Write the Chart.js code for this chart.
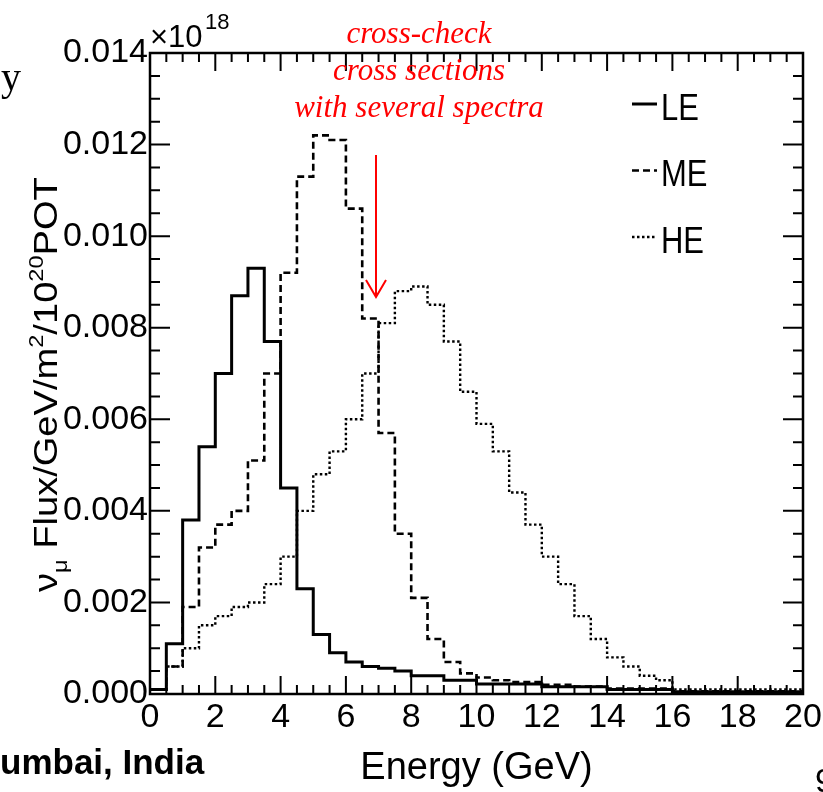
<!DOCTYPE html>
<html>
<head>
<meta charset="utf-8">
<script src="https://cdn.jsdelivr.net/npm/chart.js@4.4.0/dist/chart.umd.min.js"></script>
<style>
  html, body { margin: 0; padding: 0; background: #fff; }
  canvas { display: block; }
</style>
</head>
<body>
<canvas id="fluxChart" width="823" height="792"></canvas>
<script>
// energy bin edges (GeV), 0.5 GeV wide bins
var binEdges = [0, 0.5, 1, 1.5, 2, 2.5, 3, 3.5, 4, 4.5, 5, 5.5, 6, 6.5, 7, 7.5, 8, 8.5, 9, 9.5,
                10, 10.5, 11, 11.5, 12, 12.5, 13, 13.5, 14, 14.5, 15, 15.5, 16, 16.5, 17, 17.5, 18, 18.5, 19, 19.5, 20];

// numu flux per bin, x10^18 /GeV/m2/1e20 POT
var leFlux = [0.0001, 0.0011, 0.0038, 0.0054, 0.0070, 0.0087, 0.0093, 0.0077, 0.0045, 0.0023,
              0.0013, 0.0009, 0.0007, 0.0006, 0.00056, 0.0005, 0.0004, 0.0004, 0.0003, 0.0003,
              0.00022, 0.00022, 0.00022, 0.00022, 0.00016, 0.00016, 0.00016, 0.00016, 0.0001, 0.0001,
              0.0001, 0.0001, 0.00005, 0.00005, 0.00005, 0.00005, 0.00005, 0.00005, 0.00005, 0.00005];
var meFlux = [0.0001, 0.0006, 0.0019, 0.0032, 0.0037, 0.0040, 0.0051, 0.0070, 0.0092, 0.0113,
              0.0122, 0.0121, 0.0106, 0.0082, 0.0057, 0.0035, 0.0021, 0.0012, 0.0007, 0.00045,
              0.00036, 0.0003, 0.00026, 0.00026, 0.0002, 0.0002, 0.00016, 0.00016, 0.00012, 0.00012,
              0.00012, 0.00012, 0.00006, 0.00006, 0.00006, 0.00006, 0.00006, 0.00006, 0.00006, 0.00006];
var heFlux = [0.0001, 0.0006, 0.0010, 0.0015, 0.0017, 0.0019, 0.0020, 0.0024, 0.0030, 0.0040,
              0.0048, 0.0053, 0.0060, 0.0070, 0.0081, 0.0088, 0.0089, 0.0085, 0.0077, 0.0066,
              0.0059, 0.0053, 0.0044, 0.0037, 0.0030, 0.0024, 0.0017, 0.0012, 0.0008, 0.0006,
              0.0004, 0.0003, 0.0001, 0.0001, 0.0001, 0.0001, 0.0001, 0.0001, 0.0001, 0.0001];

var xTicks = [0, 2, 4, 6, 8, 10, 12, 14, 16, 18, 20];
var yTicks = [0, 0.002, 0.004, 0.006, 0.008, 0.010, 0.012, 0.014];
var noteLines = ['cross-check', 'cross sections', 'with several spectra'];

var SANS = '"Liberation Sans", Arial, sans-serif';
var SERIF = '"Liberation Serif", "Times New Roman", serif';

// histogram outline: one point per low edge, plus the last high edge
function histPoints(vals) {
    var pts = vals.map(function (v, i) { return { x: binEdges[i], y: v }; });
    pts.push({ x: binEdges[vals.length], y: vals[vals.length - 1] });
    return pts;
}

// text with sub/superscripts drawn left to right from the current origin
function drawRich(ctx, parts, size) {
    var x = 0;
    parts.forEach(function (p) {
        var fs = p.s ? size * 0.62 : size;
        ctx.font = fs + 'px ' + SANS;
        var dy = p.s === 'sub' ? size * 0.3 : (p.s === 'sup' ? -size * 0.42 : 0);
        ctx.fillText(p.t, x, dy);
        x += ctx.measureText(p.t).width;
    });
}

// ROOT-like frame: inner ticks on all four sides, legend and annotations
var rootFrame = {
    id: 'rootFrame',
    afterDatasetsDraw: function (chart) {
        var ctx = chart.ctx, a = chart.chartArea;
        var xs = chart.scales.x, ys = chart.scales.y;
        ctx.save();
        ctx.strokeStyle = '#000';
        ctx.lineWidth = 2;
        ctx.beginPath();
        for (var k = 0; k <= 40; k++) {
            var px = xs.getPixelForValue(k * 0.5);
            var len = (k % 4 === 0) ? 18 : 9;
            ctx.moveTo(px, a.bottom); ctx.lineTo(px, a.bottom - len);
            ctx.moveTo(px, a.top); ctx.lineTo(px, a.top + len);
        }
        for (var j = 0; j <= 28; j++) {
            var py = ys.getPixelForValue(j * 0.0005);
            var l2 = (j % 4 === 0) ? 20 : 10;
            ctx.moveTo(a.left, py); ctx.lineTo(a.left + l2, py);
            ctx.moveTo(a.right, py); ctx.lineTo(a.right - l2, py);
        }
        ctx.stroke();
        ctx.lineWidth = 2.5;
        ctx.strokeRect(a.left, a.top, a.right - a.left, a.bottom - a.top);

        // legend
        ctx.fillStyle = '#000';
        chart.data.datasets.forEach(function (ds, i) {
            var yy = 104 + i * 66.5;
            ctx.save();
            ctx.lineWidth = ds.borderWidth;
            ctx.setLineDash(ds.borderDash || []);
            ctx.beginPath();
            ctx.moveTo(632, yy); ctx.lineTo(657, yy);
            ctx.stroke();
            ctx.restore();
            ctx.save();
            ctx.translate(661, yy + 15.5);
            ctx.scale(0.86, 1);
            ctx.font = '36px ' + SANS;
            ctx.textAlign = 'left';
            ctx.textBaseline = 'alphabetic';
            ctx.fillText(ds.label, 0, 0);
            ctx.restore();
        });

        // exponent of the y axis
        ctx.textAlign = 'left';
        ctx.textBaseline = 'alphabetic';
        ctx.font = '31px ' + SANS;
        ctx.fillText('\u00d710', 150, 47);
        ctx.font = '22px ' + SANS;
        ctx.fillText('18', 205, 29);

        // y axis title
        ctx.save();
        ctx.translate(57, 592);
        ctx.rotate(-Math.PI / 2);
        ctx.scale(1.12, 1);
        drawRich(ctx, [
            { t: '\u03bd' }, { t: '\u03bc', s: 'sub' }, { t: ' Flux/GeV/m' }, { t: '2', s: 'sup' },
            { t: '/10' }, { t: '20', s: 'sup' }, { t: 'POT' }
        ], 34);
        ctx.restore();

        // red note and arrow
        ctx.fillStyle = '#ff0000';
        ctx.strokeStyle = '#ff0000';
        ctx.font = 'italic 31px ' + SERIF;
        ctx.textAlign = 'center';
        noteLines.forEach(function (t, i) {
            ctx.fillText(t, 419, 43 + i * 37);
        });
        ctx.lineWidth = 2;
        ctx.beginPath();
        ctx.moveTo(376, 155); ctx.lineTo(376, 297);
        ctx.moveTo(366, 280); ctx.lineTo(376, 297); ctx.lineTo(386, 280);
        ctx.stroke();

        // surrounding slide text
        ctx.fillStyle = '#000';
        ctx.textAlign = 'left';
        ctx.font = '40px ' + SERIF;
        ctx.fillText('y', 1, 90);
        ctx.font = 'bold 35px ' + SANS;
        ctx.fillText('umbai, India', 0, 774);
        ctx.font = '34px ' + SANS;
        ctx.fillText('9', 815, 792);
        ctx.restore();
    }
};

var ctx = document.getElementById('fluxChart').getContext('2d');
var fluxChart = new Chart(ctx, {
    type: 'line',
    data: {
        datasets: [{
            label: 'LE',
            data: histPoints(leFlux),
            borderColor: '#000',
            borderWidth: 3,
            stepped: 'before',
            pointRadius: 0,
            fill: false
        }, {
            label: 'ME',
            data: histPoints(meFlux),
            borderColor: '#000',
            borderWidth: 2.6,
            borderDash: [7, 4],
            stepped: 'before',
            pointRadius: 0,
            fill: false
        }, {
            label: 'HE',
            data: histPoints(heFlux),
            borderColor: '#000',
            borderWidth: 2.4,
            borderDash: [2.5, 2.5],
            stepped: 'before',
            pointRadius: 0,
            fill: false
        }]
    },
    options: {
        responsive: false,
        animation: false,
        layout: { padding: { top: 53, right: 20, left: 0, bottom: 0 } },
        plugins: { legend: { display: false }, tooltip: { enabled: false } },
        scales: {
            x: {
                type: 'linear',
                min: 0,
                max: 20,
                afterBuildTicks: function (scale) {
                    scale.ticks = xTicks.map(function (v) { return { value: v }; });
                },
                afterFit: function (scale) {
                    scale.height = 98;
                    scale.paddingLeft = 0;
                    scale.paddingRight = 0;
                },
                grid: { display: false, drawTicks: false },
                border: { display: false },
                ticks: {
                    color: '#000',
                    padding: 3,
                    maxRotation: 0,
                    autoSkip: false,
                    font: { family: SANS, size: 34 }
                },
                title: {
                    display: true,
                    text: 'Energy (GeV)',
                    color: '#000',
                    padding: { top: 0, bottom: 1 },
                    font: { family: SANS, size: 38 }
                }
            },
            y: {
                min: 0,
                max: 0.014,
                afterBuildTicks: function (scale) {
                    scale.ticks = yTicks.map(function (v) { return { value: v }; });
                },
                afterFit: function (scale) {
                    scale.width = 150;
                    scale.paddingTop = 0;
                    scale.paddingBottom = 0;
                },
                grid: { display: false, drawTicks: false },
                border: { display: false },
                ticks: {
                    color: '#000',
                    padding: 2,
                    autoSkip: false,
                    font: { family: SANS, size: 34 },
                    callback: function (v) { return v.toFixed(3); }
                }
            }
        }
    },
    plugins: [rootFrame]
});
</script>
</body>
</html>
